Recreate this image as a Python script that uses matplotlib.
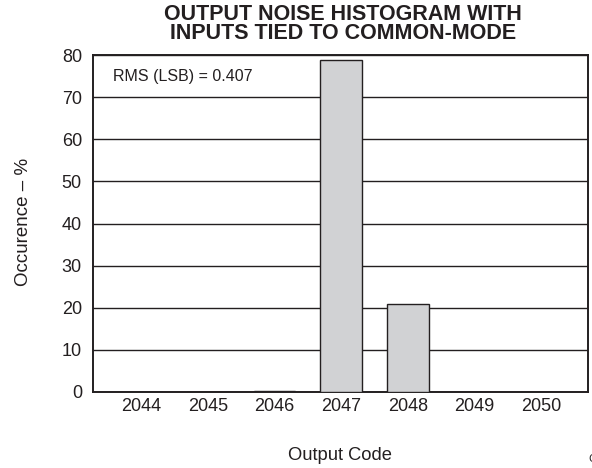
import matplotlib.pyplot as plt

plt.rcParams['font.family'] = ['Liberation Sans', 'DejaVu Sans']

# histogram data
codes = [2044, 2045, 2046, 2047, 2048, 2049, 2050]
occurence = [0, 0, 0.3, 78.8, 20.9, 0, 0]
yticks = [0, 10, 20, 30, 40, 50, 60, 70, 80]

fig = plt.figure(figsize=(5.92, 4.68), dpi=100)
ax = fig.add_axes([93 / 592, 1 - 392 / 468, 495 / 592, 337 / 468])

ax.bar(codes, occurence, width=0.62, color='#d1d2d4', edgecolor='#231f20',
       linewidth=1.0, zorder=3)

ax.set_xlim(2043.28, 2050.7)
ax.set_ylim(0, 80)
ax.set_xticks(codes)
ax.set_yticks(yticks)
ax.tick_params(length=0, labelsize=13, colors='#231f20')
ax.tick_params(axis='x', pad=4)
ax.tick_params(axis='y', pad=8)
ax.yaxis.grid(True, color='#231f20', linewidth=1.0, zorder=0)
ax.set_axisbelow(True)
for s in ax.spines.values():
    s.set_color('#231f20')
    s.set_linewidth(1.4)

ax.text(0.04, 0.935, 'RMS (LSB) = 0.407', transform=ax.transAxes,
        fontsize=11.5, color='#231f20', va='center')

fig.text(340 / 592, 1 - 456 / 468, 'Output Code', ha='center', va='center',
         fontsize=13.2, color='#231f20')
fig.text(24 / 592, 1 - 222 / 468, 'Occurence – %', ha='center', va='center',
         rotation=90, fontsize=13.5, color='#231f20')
fig.text(343 / 592, 1 - 24 / 468,
         'OUTPUT NOISE HISTOGRAM WITH\nINPUTS TIED TO COMMON-MODE',
         ha='center', va='center', fontsize=15.5, fontweight='bold',
         linespacing=0.82, color='#231f20')
fig.text(588 / 592, 1 - 459 / 468, 'C001', ha='left', va='center',
         fontsize=8, color='#231f20')

fig.savefig('out.png', dpi=100)
